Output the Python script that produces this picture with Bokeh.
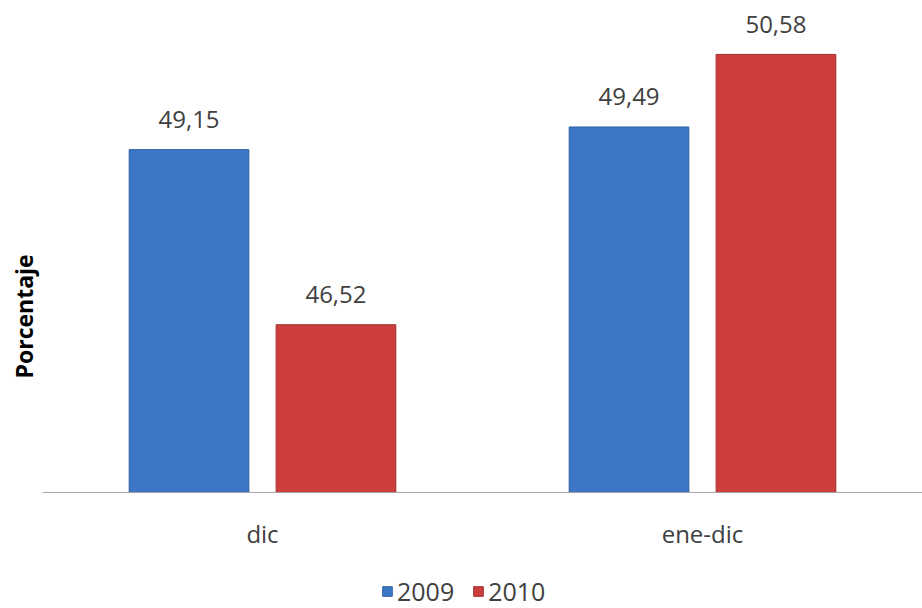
from bokeh.plotting import figure
from bokeh.models import (ColumnDataSource, FactorRange, Range1d, LabelSet, Title,
                          Legend, LegendItem, Span)
from bokeh.core.properties import value
from bokeh.transform import dodge
from bokeh.embed import file_html
from bokeh.resources import INLINE

categories = ["dic", "ene-dic"]
series_names = ["2009", "2010"]
values_2009 = [49.15, 49.49]
values_2010 = [46.52, 50.58]
labels_2009 = ["49,15", "49,49"]
labels_2010 = ["46,52", "50,58"]
y_axis_title = "Porcentaje"
y_baseline = 44.0   # value axis minimum (where the category axis crosses)

FONT = "Open Sans"
TXT = "#404040"
BLUE = "#3c77c5"
RED = "#cc3d3b"

src = ColumnDataSource(dict(cat=categories, v2009=values_2009, v2010=values_2010,
                            l2009=labels_2009, l2010=labels_2010,
                            base=[y_baseline] * len(categories)))

p = figure(x_range=FactorRange(factors=categories), y_range=Range1d(42.257, 51.27),
           frame_width=880, frame_height=600, output_backend="svg", toolbar_location=None,
           min_border_left=42, min_border_right=0, min_border_top=8, min_border_bottom=0)
p.outline_line_color = None
p.xgrid.visible = False
p.ygrid.visible = False
p.yaxis.visible = False
p.xaxis.visible = False

r1 = p.vbar(x=dodge("cat", -0.167, range=p.x_range), top="v2009", bottom="base", width=0.272,
            source=src, fill_color=BLUE, line_color="#2f60a3", line_width=1)
r2 = p.vbar(x=dodge("cat", 0.167, range=p.x_range), top="v2010", bottom="base", width=0.272,
            source=src, fill_color=RED, line_color="#a32f2d", line_width=1)

# category axis line
p.add_layout(Span(location=y_baseline, dimension="width", line_color="#a6a6a6", line_width=1))

# category labels
p.add_layout(LabelSet(x="cat", y="base", text="cat", source=src, y_offset=-41,
                      text_align="center", text_baseline="middle",
                      text_font=value(FONT), text_font_size=value("24px"), text_color=TXT))

# value labels
for col, lab, off in (("v2009", "l2009", -0.167), ("v2010", "l2010", 0.167)):
    p.add_layout(LabelSet(x=dodge("cat", off, range=p.x_range), y=col, text=lab, source=src,
                          y_offset=30, text_align="center", text_baseline="middle",
                          text_font=value(FONT), text_font_size=value("24px"),
                          text_color=TXT))

p.add_layout(Title(text=y_axis_title, align="left", offset=230, standoff=6,
                   text_font=FONT, text_font_size="23px", text_font_style="bold",
                   text_color="#000000"), "left")

legend = Legend(items=[LegendItem(label=series_names[0], renderers=[r1]),
                       LegendItem(label=series_names[1], renderers=[r2])],
                orientation="horizontal", location=(339, 0),
                label_text_font=FONT, label_text_font_size="25px", label_text_color=TXT,
                glyph_width=12, glyph_height=12, label_standoff=4, spacing=18,
                padding=2, margin=0, border_line_color=None, background_fill_alpha=0)
p.add_layout(legend)

open("out.html", "w").write(file_html(p, INLINE))
